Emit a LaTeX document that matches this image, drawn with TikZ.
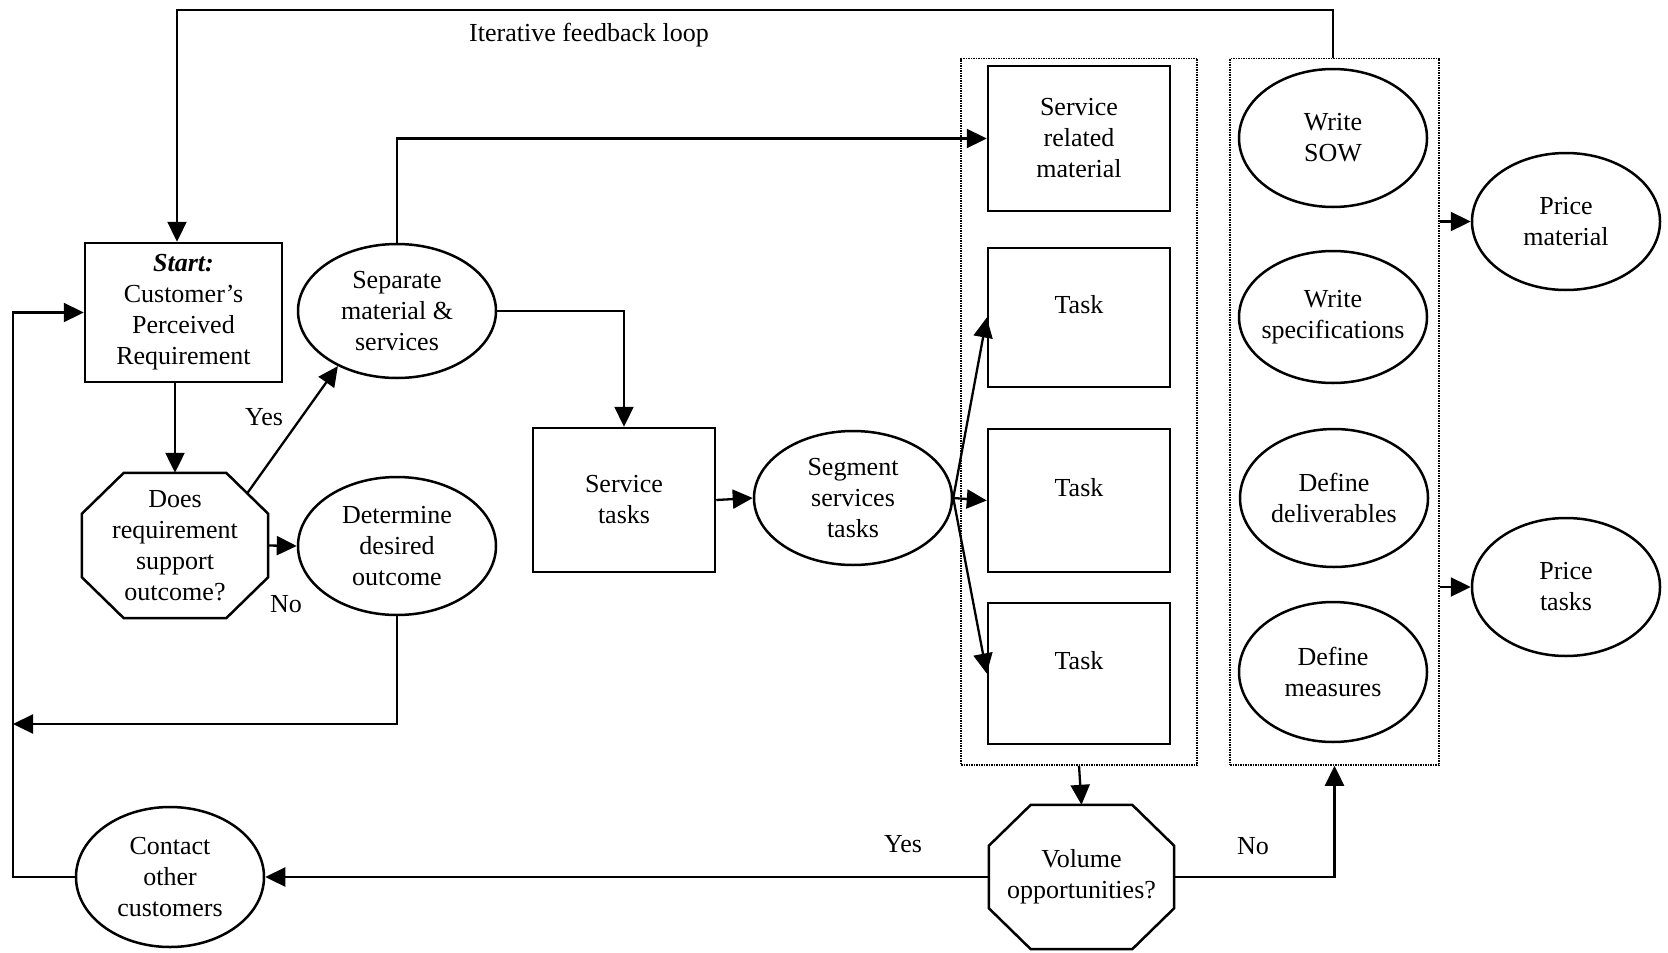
\documentclass[tikz,border=0pt]{standalone}
\usepackage{fontspec}
\setmainfont{Liberation Serif}
\usetikzlibrary{arrows.meta,shapes.geometric,calc}

\begin{document}
\begin{tikzpicture}[x=1pt,y=-1pt,
  every node/.style={font=\fontsize{26}{31}\selectfont, align=center, inner sep=0pt},
  box/.style={draw, line width=2.5pt, rectangle},
  oval/.style={draw, line width=2.5pt, ellipse, inner sep=-12pt},
  octa/.style={rectangle},
  octline/.style={line width=2.5pt, line join=miter},
  group/.style={draw, line width=1.5pt, densely dotted, rectangle},
  tasktext/.style={text depth=26pt},
  link/.style={line width=2.3pt},
  arr/.style={link, -{Triangle[length=20pt,width=19pt]}},
  note/.style={font=\fontsize{26}{31}\selectfont}
  ]
\useasboundingbox (0,0) rectangle (1668,953);

% octagon outline around a rectangular node, corners cut by 42 x 41
\newcommand\octframe[1]{%
  \draw[octline] ($(#1.north west)+(42,0)$) -- ($(#1.north east)+(-42,0)$)
    -- ($(#1.north east)+(0,41)$) -- ($(#1.south east)+(0,-41)$)
    -- ($(#1.south east)+(-42,0)$) -- ($(#1.south west)+(42,0)$)
    -- ($(#1.south west)+(0,-41)$) -- ($(#1.north west)+(0,41)$) -- cycle;}

% left part: requirement check
\node[box, minimum width=197pt, minimum height=139pt] (start) at (183.5,312.5)
  {\textbf{\textit{Start:}}\\Customer’s\\Perceived\\Requirement};
\node[octa, minimum width=186pt, minimum height=145pt] (q1) at (175,545.5)
  {Does\\requirement\\support\\outcome?};
\octframe{q1}
\node[oval, minimum width=198pt, minimum height=134pt] (sep) at (397,311)
  {Separate\\material \&\\services};
\node[oval, minimum width=198pt, minimum height=138pt] (det) at (397,546)
  {Determine\\desired\\outcome};
\node[box, minimum width=182pt, minimum height=144pt] (stasks) at (624,500)
  {Service\\tasks};
\node[oval, minimum width=198pt, minimum height=134pt] (seg) at (853,498)
  {Segment\\services\\tasks};

% material and task group
\node[group, minimum width=236pt, minimum height=706.5pt] (lbox) at (1079,411.75) {};
\node[box, minimum width=182pt, minimum height=145pt] (srm) at (1079,138.5)
  {Service\\related\\material};
\node[box, tasktext, minimum width=182pt, minimum height=139pt] (t1) at (1079,317.5) {Task};
\node[box, tasktext, minimum width=182pt, minimum height=143pt] (t2) at (1079,500.5) {Task};
\node[box, tasktext, minimum width=182pt, minimum height=141pt] (t3) at (1079,673.5) {Task};

% documentation group
\node[group, minimum width=209pt, minimum height=706.5pt] (rbox) at (1334.5,411.75) {};
\node[oval, minimum width=188pt, minimum height=138pt] (sow) at (1333,138) {Write\\SOW};
\node[oval, minimum width=188pt, minimum height=132pt] (spec) at (1333,317) {Write\\specifications};
\node[oval, minimum width=188pt, minimum height=138pt] (deliv) at (1334,498) {Define\\deliverables};
\node[oval, minimum width=188pt, minimum height=140pt] (meas) at (1333,672) {Define\\measures};

% pricing
\node[oval, minimum width=188pt, minimum height=137pt] (pm) at (1566,221.5) {Price\\material};
\node[oval, minimum width=188pt, minimum height=138pt] (pt) at (1566,587) {Price\\tasks};

% volume decision
\node[octa, minimum width=185pt, minimum height=144pt] (vol) at (1081.5,877)
  {Volume\\opportunities?};
\octframe{vol}
\node[oval, minimum width=188pt, minimum height=140pt] (contact) at (170,877)
  {Contact\\other\\customers};

% labels
\node[note] (fbl) at (589,35) {Iterative feedback loop};
\node[note] (yes1) at (264,417) {Yes};
\node[note] (no1) at (286,604) {No};
\node[note] (yes2) at (903,844) {Yes};
\node[note] (no2) at (1253,846) {No};

% routing points
\coordinate (fbR) at (1333,10);
\coordinate (fbL) at (177,10);
\coordinate (detjoin) at (13,724);
\coordinate (railtop) at (13,312.5);
\coordinate (q1yes) at ($(q1.north east)+(-21,20.5)$);

% connectors
\draw[arr] (sow.north |- rbox.north) -- (fbR) -- (fbL) -- (fbL |- start.north);
\draw[arr] (start.south -| q1.north) -- (q1.north);
\draw[arr] (q1yes) -- (sep.223);
\draw[arr] (q1.east) -- (det.west);
\draw[arr] (sep.north) |- (srm.west);
\draw[arr] (sep.east) -| (stasks.north);
\draw[arr] (stasks.east) -- (seg.west);
\draw[arr] (seg.east) -- (t1.west);
\draw[arr] (seg.east) -- (t2.west);
\draw[arr] (seg.east) -- (t3.west);
\draw[arr] (lbox.south) -- (vol.north);
\draw[arr] (vol.west) -- (contact.east);
\draw[arr] (vol.east) -| (rbox.south);
\draw[arr] (pm.west -| rbox.east) -- (pm.west);
\draw[arr] (pt.west -| rbox.east) -- (pt.west);
\draw[arr] (det.south) |- (detjoin);
\draw[arr] (contact.west) -| (railtop) -- (start.west);
\end{tikzpicture}
\end{document}
